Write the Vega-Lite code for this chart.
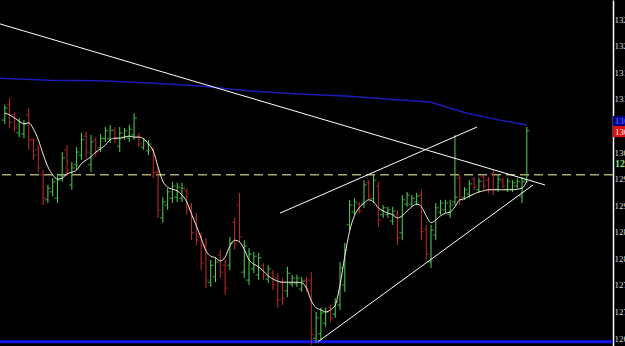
{
  "$schema": "https://vega.github.io/schema/vega-lite/v6.json",
  "width": 613,
  "height": 346,
  "autosize": {"type": "none"},
  "padding": {"left": 0, "top": 0, "right": 12, "bottom": 0},
  "background": "#000000",
  "config": {"view": {"stroke": null}, "axis": {"labelOverlap": false, "labelBound": false, "labelFlush": false}},
  "datasets": {
    "bars": [
      {"i":0,"o":130.60,"h":130.89,"l":130.53,"c":130.83,"m":130.73,"d":"u"},
      {"i":1,"o":130.90,"h":131.02,"l":130.45,"c":130.56,"m":130.70,"d":"d"},
      {"i":2,"o":130.70,"h":130.75,"l":130.38,"c":130.45,"m":130.64,"d":"d"},
      {"i":3,"o":130.36,"h":130.64,"l":130.28,"c":130.56,"m":130.58,"d":"u"},
      {"i":4,"o":130.34,"h":130.60,"l":130.26,"c":130.53,"m":130.53,"d":"u"},
      {"i":5,"o":130.70,"h":130.83,"l":130.04,"c":130.23,"m":130.55,"d":"d"},
      {"i":6,"o":130.23,"h":130.26,"l":129.85,"c":129.94,"m":130.43,"d":"d"},
      {"i":7,"o":130.04,"h":130.13,"l":129.62,"c":129.70,"m":130.23,"d":"d"},
      {"i":8,"o":129.57,"h":129.66,"l":129.00,"c":129.13,"m":129.96,"d":"d"},
      {"i":9,"o":129.10,"h":129.38,"l":129.04,"c":129.32,"m":129.72,"d":"u"},
      {"i":10,"o":129.25,"h":129.51,"l":129.17,"c":129.44,"m":129.57,"d":"u"},
      {"i":11,"o":129.13,"h":129.59,"l":129.04,"c":129.47,"m":129.49,"d":"u"},
      {"i":12,"o":129.55,"h":130.00,"l":129.44,"c":129.89,"m":129.51,"d":"u"},
      {"i":13,"o":130.04,"h":130.13,"l":129.55,"c":129.66,"m":129.59,"d":"d"},
      {"i":14,"o":129.38,"h":129.81,"l":129.29,"c":129.70,"m":129.62,"d":"u"},
      {"i":15,"o":129.76,"h":130.09,"l":129.66,"c":130.00,"m":129.66,"d":"u"},
      {"i":16,"o":129.94,"h":130.36,"l":129.85,"c":130.23,"m":129.78,"d":"u"},
      {"i":17,"o":130.30,"h":130.38,"l":129.89,"c":130.00,"m":129.85,"d":"d"},
      {"i":18,"o":129.76,"h":130.32,"l":129.62,"c":130.19,"m":129.91,"d":"u"},
      {"i":19,"o":130.23,"h":130.28,"l":129.91,"c":130.00,"m":130.00,"d":"d"},
      {"i":20,"o":130.08,"h":130.34,"l":130.00,"c":130.26,"m":130.06,"d":"u"},
      {"i":21,"o":130.25,"h":130.47,"l":130.19,"c":130.40,"m":130.13,"d":"u"},
      {"i":22,"o":130.25,"h":130.51,"l":130.17,"c":130.41,"m":130.23,"d":"u"},
      {"i":23,"o":130.41,"h":130.47,"l":130.17,"c":130.25,"m":130.26,"d":"d"},
      {"i":24,"o":130.11,"h":130.47,"l":130.00,"c":130.36,"m":130.26,"d":"u"},
      {"i":25,"o":130.28,"h":130.45,"l":130.23,"c":130.40,"m":130.28,"d":"u"},
      {"i":26,"o":130.26,"h":130.51,"l":130.19,"c":130.43,"m":130.30,"d":"u"},
      {"i":27,"o":130.32,"h":130.73,"l":130.23,"c":130.64,"m":130.28,"d":"u"},
      {"i":28,"o":130.30,"h":130.36,"l":130.09,"c":130.15,"m":130.28,"d":"d"},
      {"i":29,"o":130.09,"h":130.26,"l":130.04,"c":130.21,"m":130.25,"d":"u"},
      {"i":30,"o":130.02,"h":130.23,"l":129.94,"c":130.15,"m":130.15,"d":"u"},
      {"i":31,"o":130.04,"h":130.09,"l":129.51,"c":129.62,"m":130.02,"d":"d"},
      {"i":32,"o":129.62,"h":129.72,"l":128.76,"c":128.91,"m":129.72,"d":"d"},
      {"i":33,"o":128.76,"h":129.15,"l":128.67,"c":129.06,"m":129.45,"d":"u"},
      {"i":34,"o":129.00,"h":129.32,"l":128.91,"c":129.25,"m":129.34,"d":"u"},
      {"i":35,"o":129.13,"h":129.44,"l":129.04,"c":129.36,"m":129.30,"d":"u"},
      {"i":36,"o":129.15,"h":129.42,"l":129.06,"c":129.34,"m":129.27,"d":"u"},
      {"i":37,"o":129.13,"h":129.42,"l":129.06,"c":129.32,"m":129.19,"d":"u"},
      {"i":38,"o":129.27,"h":129.32,"l":128.82,"c":128.91,"m":129.06,"d":"d"},
      {"i":39,"o":128.97,"h":129.04,"l":128.34,"c":128.48,"m":128.83,"d":"d"},
      {"i":40,"o":128.76,"h":128.85,"l":128.25,"c":128.34,"m":128.61,"d":"d"},
      {"i":41,"o":128.40,"h":128.48,"l":127.78,"c":127.91,"m":128.38,"d":"d"},
      {"i":42,"o":128.25,"h":128.38,"l":127.44,"c":127.59,"m":128.14,"d":"d"},
      {"i":43,"o":127.55,"h":127.97,"l":127.46,"c":127.87,"m":128.04,"d":"u"},
      {"i":44,"o":127.65,"h":128.02,"l":127.55,"c":127.93,"m":128.01,"d":"u"},
      {"i":45,"o":128.06,"h":128.16,"l":127.63,"c":127.74,"m":127.95,"d":"d"},
      {"i":46,"o":127.87,"h":127.97,"l":127.31,"c":127.44,"m":128.02,"d":"d"},
      {"i":47,"o":127.87,"h":128.40,"l":127.78,"c":128.29,"m":128.23,"d":"u"},
      {"i":48,"o":128.68,"h":128.76,"l":128.16,"c":128.27,"m":128.34,"d":"d"},
      {"i":49,"o":129.00,"h":129.23,"l":128.29,"c":128.40,"m":128.31,"d":"d"},
      {"i":50,"o":127.74,"h":128.34,"l":127.63,"c":128.23,"m":128.17,"d":"u"},
      {"i":51,"o":127.59,"h":128.19,"l":127.50,"c":128.08,"m":127.97,"d":"u"},
      {"i":52,"o":127.80,"h":128.12,"l":127.72,"c":128.04,"m":127.89,"d":"u"},
      {"i":53,"o":127.69,"h":128.10,"l":127.59,"c":128.01,"m":127.84,"d":"u"},
      {"i":54,"o":127.86,"h":127.91,"l":127.59,"c":127.67,"m":127.76,"d":"d"},
      {"i":55,"o":127.61,"h":127.87,"l":127.54,"c":127.80,"m":127.67,"d":"u"},
      {"i":56,"o":127.72,"h":127.78,"l":127.40,"c":127.50,"m":127.61,"d":"d"},
      {"i":57,"o":127.63,"h":127.72,"l":127.07,"c":127.22,"m":127.57,"d":"d"},
      {"i":58,"o":127.55,"h":127.63,"l":127.12,"c":127.25,"m":127.55,"d":"d"},
      {"i":59,"o":127.39,"h":127.84,"l":127.27,"c":127.72,"m":127.55,"d":"u"},
      {"i":60,"o":127.52,"h":127.69,"l":127.46,"c":127.63,"m":127.55,"d":"u"},
      {"i":61,"o":127.52,"h":127.69,"l":127.46,"c":127.63,"m":127.55,"d":"u"},
      {"i":62,"o":127.42,"h":127.65,"l":127.37,"c":127.57,"m":127.54,"d":"u"},
      {"i":63,"o":127.59,"h":127.65,"l":127.37,"c":127.42,"m":127.44,"d":"d"},
      {"i":64,"o":127.59,"h":127.74,"l":126.37,"c":126.56,"m":127.20,"d":"d"},
      {"i":65,"o":126.50,"h":126.99,"l":126.41,"c":126.88,"m":127.07,"d":"u"},
      {"i":66,"o":126.58,"h":127.07,"l":126.46,"c":126.97,"m":127.03,"d":"u"},
      {"i":67,"o":126.78,"h":127.07,"l":126.71,"c":126.99,"m":126.99,"d":"u"},
      {"i":68,"o":127.07,"h":127.12,"l":126.80,"c":126.88,"m":127.03,"d":"d"},
      {"i":69,"o":126.95,"h":127.25,"l":126.88,"c":127.18,"m":127.12,"d":"u"},
      {"i":70,"o":127.12,"h":127.93,"l":127.03,"c":127.82,"m":127.50,"d":"u"},
      {"i":71,"o":127.50,"h":128.29,"l":127.37,"c":128.16,"m":128.04,"d":"u"},
      {"i":72,"o":128.63,"h":129.10,"l":128.53,"c":129.00,"m":128.51,"d":"u"},
      {"i":73,"o":128.87,"h":129.13,"l":128.82,"c":129.06,"m":128.80,"d":"u"},
      {"i":74,"o":129.02,"h":129.06,"l":128.85,"c":128.89,"m":128.95,"d":"d"},
      {"i":75,"o":129.02,"h":129.47,"l":128.95,"c":129.38,"m":129.04,"d":"u"},
      {"i":76,"o":129.42,"h":129.47,"l":129.10,"c":129.17,"m":129.10,"d":"d"},
      {"i":77,"o":129.12,"h":129.57,"l":129.04,"c":129.47,"m":129.06,"d":"u"},
      {"i":78,"o":129.36,"h":129.44,"l":128.59,"c":128.72,"m":128.95,"d":"d"},
      {"i":79,"o":128.82,"h":129.00,"l":128.76,"c":128.95,"m":128.89,"d":"u"},
      {"i":80,"o":128.82,"h":128.97,"l":128.76,"c":128.91,"m":128.85,"d":"u"},
      {"i":81,"o":128.70,"h":128.97,"l":128.63,"c":128.89,"m":128.82,"d":"u"},
      {"i":82,"o":128.83,"h":128.91,"l":128.25,"c":128.38,"m":128.76,"d":"d"},
      {"i":83,"o":128.48,"h":129.19,"l":128.34,"c":129.10,"m":128.80,"d":"u"},
      {"i":84,"o":129.02,"h":129.25,"l":128.97,"c":129.19,"m":128.89,"d":"u"},
      {"i":85,"o":129.02,"h":129.19,"l":128.97,"c":129.13,"m":128.97,"d":"u"},
      {"i":86,"o":129.06,"h":129.23,"l":129.00,"c":129.17,"m":129.02,"d":"u"},
      {"i":87,"o":129.19,"h":129.29,"l":128.34,"c":128.50,"m":128.97,"d":"d"},
      {"i":88,"o":128.55,"h":128.63,"l":127.97,"c":128.08,"m":128.80,"d":"d"},
      {"i":89,"o":127.93,"h":128.63,"l":127.82,"c":128.53,"m":128.67,"d":"u"},
      {"i":90,"o":128.44,"h":129.04,"l":128.34,"c":128.95,"m":128.72,"d":"u"},
      {"i":91,"o":128.87,"h":129.10,"l":128.82,"c":129.04,"m":128.80,"d":"u"},
      {"i":92,"o":128.91,"h":129.10,"l":128.85,"c":129.04,"m":128.85,"d":"u"},
      {"i":93,"o":128.83,"h":129.10,"l":128.76,"c":129.00,"m":128.87,"d":"u"},
      {"i":94,"o":129.06,"h":130.32,"l":129.00,"c":129.15,"m":128.97,"d":"u"},
      {"i":95,"o":129.51,"h":129.57,"l":129.00,"c":129.10,"m":129.10,"d":"d"},
      {"i":96,"o":129.15,"h":129.34,"l":129.10,"c":129.29,"m":129.12,"d":"u"},
      {"i":97,"o":129.21,"h":129.47,"l":129.13,"c":129.40,"m":129.17,"d":"u"},
      {"i":98,"o":129.49,"h":129.53,"l":129.29,"c":129.34,"m":129.21,"d":"d"},
      {"i":99,"o":129.29,"h":129.51,"l":129.23,"c":129.45,"m":129.25,"d":"u"},
      {"i":100,"o":129.53,"h":129.57,"l":129.29,"c":129.36,"m":129.27,"d":"d"},
      {"i":101,"o":129.47,"h":129.53,"l":129.23,"c":129.29,"m":129.29,"d":"d"},
      {"i":102,"o":129.59,"h":129.66,"l":129.19,"c":129.29,"m":129.29,"d":"d"},
      {"i":103,"o":129.30,"h":129.57,"l":129.25,"c":129.49,"m":129.29,"d":"u"},
      {"i":104,"o":129.47,"h":129.51,"l":129.32,"c":129.36,"m":129.29,"d":"d"},
      {"i":105,"o":129.30,"h":129.51,"l":129.25,"c":129.45,"m":129.29,"d":"u"},
      {"i":106,"o":129.30,"h":129.47,"l":129.25,"c":129.42,"m":129.29,"d":"u"},
      {"i":107,"o":129.36,"h":129.51,"l":129.32,"c":129.45,"m":129.30,"d":"u"},
      {"i":108,"o":129.17,"h":129.53,"l":129.04,"c":129.44,"m":129.32,"d":"u"},
      {"i":109,"o":129.47,"h":130.47,"l":129.42,"c":130.40,"m":129.45,"d":"u"}
    ],
    "blue": [
      {"i":-1,"v":131.39},{"i":9.44,"v":131.35},{"i":19.88,"v":131.34},{"i":30.32,"v":131.30},
      {"i":40.76,"v":131.24},{"i":51.2,"v":131.15},{"i":61.64,"v":131.09},{"i":72.08,"v":131.05},
      {"i":82.52,"v":130.98},{"i":88.8,"v":130.94},{"i":96.5,"v":130.73},{"i":103.4,"v":130.60},
      {"i":109,"v":130.51}
    ],
    "trend": [
      {"g":"a","i":-1,"v":132.41},{"g":"a","i":112.8,"v":129.38},
      {"g":"b","i":57.47,"v":128.85},{"g":"b","i":98.6,"v":130.47},
      {"g":"c","i":65.4,"v":126.43},{"g":"c","i":110.3,"v":129.38}
    ]
  },
  "layer": [
    {
      "data": {"values": [{"v": 126.43}]},
      "mark": {"type": "rule", "color": "#1414e6", "strokeWidth": 3},
      "encoding": {
        "y": {"field": "v", "type": "quantitative", "scale": {"domain": [126.35, 132.86], "nice": false, "zero": false},
              "axis": {"orient": "right", "title": null, "values": [126.5,127,127.5,128,128.5,129,129.5,130,130.5,131,131.5,132,132.5],
                       "tickCount": 40,
                       "format": ".2f", "grid": false, "ticks": false, "domainColor": "#ffffff", "domainWidth": 1.5,
                       "labelOverlap": false, "labelBound": false, "labelFlush": false,
                       "labelColor": "#d8d8d8", "labelFont": "Liberation Sans Narrow", "labelFontSize": 9, "labelPadding": 1}}
      }
    },
    {
      "data": {"values": [{"v": 129.57}]},
      "mark": {"type": "rule", "color": "#a8a870", "strokeWidth": 1.5, "strokeDash": [9, 5]},
      "encoding": {
        "y": {"field": "v", "type": "quantitative", "title": null, "scale": {"domain": [126.35, 132.86], "nice": false, "zero": false}}
      }
    },
    {
      "data": {"name": "blue"},
      "mark": {"type": "line", "color": "#1c1cb8", "strokeWidth": 1.5},
      "encoding": {
        "x": {"field": "i", "type": "quantitative", "axis": null, "scale": {"domain": [-1, 127], "nice": false, "zero": false}},
        "y": {"field": "v", "type": "quantitative", "title": null, "scale": {"domain": [126.35, 132.86], "nice": false, "zero": false}}
      }
    },
    {
      "data": {"name": "bars"},
      "mark": {"type": "rule", "strokeWidth": 1},
      "encoding": {
        "x": {"field": "i", "type": "quantitative", "axis": null, "scale": {"domain": [-1, 127], "nice": false, "zero": false}},
        "y": {"field": "l", "type": "quantitative", "title": null, "scale": {"domain": [126.35, 132.86], "nice": false, "zero": false}},
        "y2": {"field": "h"},
        "color": {"field": "d", "type": "nominal", "legend": null, "scale": {"domain": ["u", "d"], "range": ["#52d452", "#c42a2a"]}}
      }
    },
    {
      "data": {"name": "bars"},
      "mark": {"type": "tick", "orient": "horizontal", "size": 3, "thickness": 1, "xOffset": -1.5},
      "encoding": {
        "x": {"field": "i", "type": "quantitative", "axis": null, "scale": {"domain": [-1, 127], "nice": false, "zero": false}},
        "y": {"field": "o", "type": "quantitative", "title": null, "scale": {"domain": [126.35, 132.86], "nice": false, "zero": false}},
        "color": {"field": "d", "type": "nominal", "legend": null, "scale": {"domain": ["u", "d"], "range": ["#52d452", "#c42a2a"]}}
      }
    },
    {
      "data": {"name": "bars"},
      "mark": {"type": "tick", "orient": "horizontal", "size": 3, "thickness": 1, "xOffset": 1.5},
      "encoding": {
        "x": {"field": "i", "type": "quantitative", "axis": null, "scale": {"domain": [-1, 127], "nice": false, "zero": false}},
        "y": {"field": "c", "type": "quantitative", "title": null, "scale": {"domain": [126.35, 132.86], "nice": false, "zero": false}},
        "color": {"field": "d", "type": "nominal", "legend": null, "scale": {"domain": ["u", "d"], "range": ["#52d452", "#c42a2a"]}}
      }
    },
    {
      "data": {"name": "bars"},
      "mark": {"type": "line", "color": "#eeeedd", "strokeWidth": 1, "interpolate": "monotone"},
      "encoding": {
        "x": {"field": "i", "type": "quantitative", "axis": null, "scale": {"domain": [-1, 127], "nice": false, "zero": false}},
        "y": {"field": "m", "type": "quantitative", "title": null, "scale": {"domain": [126.35, 132.86], "nice": false, "zero": false}}
      }
    },
    {
      "data": {"name": "trend"},
      "mark": {"type": "line", "color": "#ffffff", "strokeWidth": 1},
      "encoding": {
        "x": {"field": "i", "type": "quantitative", "axis": null, "scale": {"domain": [-1, 127], "nice": false, "zero": false}},
        "y": {"field": "v", "type": "quantitative", "title": null, "scale": {"domain": [126.35, 132.86], "nice": false, "zero": false}},
        "detail": {"field": "g", "type": "nominal"}
      }
    },
    {
      "data": {"values": [{"a": 130.49, "b": 130.68}]},
      "mark": {"type": "rect", "color": "#000080"},
      "encoding": {
        "x": {"datum": 127, "type": "quantitative", "scale": {"domain": [-1, 127], "nice": false, "zero": false}, "axis": null},
        "x2": {"datum": 131},
        "y": {"field": "a", "type": "quantitative", "title": null, "scale": {"domain": [126.35, 132.86], "nice": false, "zero": false}},
        "y2": {"field": "b"}
      }
    },
    {
      "data": {"values": [{"a": 130.28, "b": 130.49}]},
      "mark": {"type": "rect", "color": "#e01010"},
      "encoding": {
        "x": {"datum": 127, "type": "quantitative", "scale": {"domain": [-1, 127], "nice": false, "zero": false}, "axis": null},
        "x2": {"datum": 131},
        "y": {"field": "a", "type": "quantitative", "title": null, "scale": {"domain": [126.35, 132.86], "nice": false, "zero": false}},
        "y2": {"field": "b"}
      }
    },
    {
      "data": {"values": [{"t": "130.58", "v": 130.585}]},
      "mark": {"type": "text", "align": "left", "baseline": "middle", "dx": 2, "font": "Liberation Sans Narrow", "fontSize": 9, "fontWeight": "bold", "color": "#4a4aff"},
      "encoding": {
        "x": {"datum": 127, "type": "quantitative", "scale": {"domain": [-1, 127], "nice": false, "zero": false}, "axis": null},
        "y": {"field": "v", "type": "quantitative", "title": null, "scale": {"domain": [126.35, 132.86], "nice": false, "zero": false}},
        "text": {"field": "t"}
      }
    },
    {
      "data": {"values": [{"t": "130.40", "v": 130.385}]},
      "mark": {"type": "text", "align": "left", "baseline": "middle", "dx": 2, "font": "Liberation Sans Narrow", "fontSize": 9, "color": "#ffffff"},
      "encoding": {
        "x": {"datum": 127, "type": "quantitative", "scale": {"domain": [-1, 127], "nice": false, "zero": false}, "axis": null},
        "y": {"field": "v", "type": "quantitative", "title": null, "scale": {"domain": [126.35, 132.86], "nice": false, "zero": false}},
        "text": {"field": "t"}
      }
    },
    {
      "data": {"values": [{"t": "129.77", "v": 129.77}]},
      "mark": {"type": "text", "align": "left", "baseline": "middle", "dx": 2, "font": "Liberation Sans Narrow", "fontSize": 10, "fontWeight": "bold", "color": "#86e086"},
      "encoding": {
        "x": {"datum": 127, "type": "quantitative", "scale": {"domain": [-1, 127], "nice": false, "zero": false}, "axis": null},
        "y": {"field": "v", "type": "quantitative", "title": null, "scale": {"domain": [126.35, 132.86], "nice": false, "zero": false}},
        "text": {"field": "t"}
      }
    }
  ]
}
